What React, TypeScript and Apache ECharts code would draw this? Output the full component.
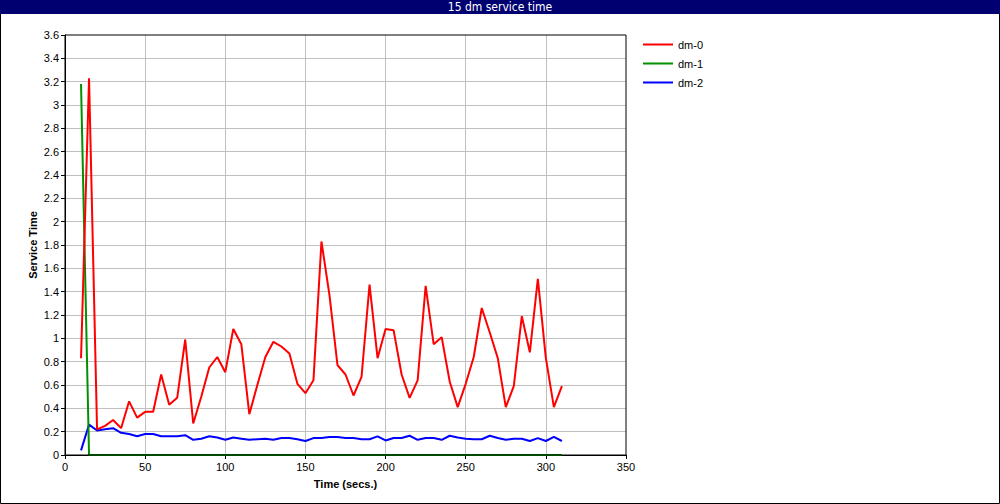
import React, { useEffect, useRef } from "react";
import * as echarts from "echarts";

const TITLE = "15 dm service time";
const SERIES_NAMES = ["dm-0", "dm-1", "dm-2"];
const TIMES = [
  10, 15, 20, 25, 30, 35, 40, 45, 50, 55, 60, 65, 70, 75, 80, 85, 90, 95, 100, 105,
  110, 115, 120, 125, 130, 135, 140, 145, 150, 155, 160, 165, 170, 175, 180, 185, 190, 195, 200, 205,
  210, 215, 220, 225, 230, 235, 240, 245, 250, 255, 260, 265, 270, 275, 280, 285, 290, 295, 300, 305, 310,
];
const DM0 = [
  0.83, 3.23, 0.22, 0.25, 0.3, 0.23, 0.46, 0.32, 0.37, 0.37, 0.69, 0.43, 0.49, 0.99, 0.27, 0.5, 0.75, 0.84, 0.71, 1.08,
  0.95, 0.35, 0.6, 0.84, 0.97, 0.93, 0.87, 0.61, 0.53, 0.64, 1.83, 1.37, 0.77, 0.69, 0.51, 0.67, 1.46, 0.83, 1.08, 1.07,
  0.69, 0.49, 0.64, 1.45, 0.95, 1.01, 0.63, 0.41, 0.61, 0.84, 1.26, 1.05, 0.83, 0.41, 0.59, 1.19, 0.88, 1.51, 0.83, 0.41, 0.59,
];
const DM1 = [
  3.18, 0, 0, 0, 0, 0, 0, 0, 0, 0, 0, 0, 0, 0, 0, 0, 0, 0, 0, 0,
  0, 0, 0, 0, 0, 0, 0, 0, 0, 0, 0, 0, 0, 0, 0, 0, 0, 0, 0, 0,
  0, 0, 0, 0, 0, 0, 0, 0, 0, 0, 0, 0, 0, 0, 0, 0, 0, 0, 0, 0, 0,
];
const DM2 = [
  0.04, 0.26, 0.21, 0.22, 0.23, 0.19, 0.18, 0.16, 0.18, 0.18, 0.16, 0.16, 0.16, 0.17, 0.13, 0.14, 0.16, 0.15, 0.13, 0.15,
  0.14, 0.13, 0.135, 0.14, 0.13, 0.145, 0.145, 0.135, 0.12, 0.145, 0.145, 0.155, 0.155, 0.145, 0.145, 0.135, 0.135, 0.16, 0.125, 0.145,
  0.145, 0.165, 0.13, 0.145, 0.145, 0.13, 0.165, 0.15, 0.14, 0.135, 0.135, 0.165, 0.145, 0.13, 0.14, 0.14, 0.12, 0.145, 0.12, 0.155, 0.12,
];
const COLORS = ["#ff0000", "#009000", "#0000ff"];

const FONT = "'Liberation Sans', Arial, sans-serif";

export default function App() {
  const ref = useRef<HTMLDivElement>(null);
  useEffect(() => {
    if (!ref.current) return;
    const chart = echarts.init(ref.current, undefined, { renderer: "svg" });
    const datasets = [DM0, DM1, DM2];
    chart.setOption({
      animation: false,
      backgroundColor: "#ffffff",
      textStyle: { fontFamily: FONT },
      graphic: [
        {
          type: "rect",
          shape: { x: 0.5, y: 0.5, width: 999, height: 503 },
          style: { fill: "none", stroke: "#000000", lineWidth: 1 },
          silent: true,
        },
        {
          type: "rect",
          shape: { x: 0, y: 0, width: 1000, height: 14 },
          style: { fill: "#000070" },
          silent: true,
        },
        {
          type: "text",
          x: 500,
          y: 7,
          style: {
            text: TITLE,
            fill: "#ffffff",
            font: "12px 'DejaVu Sans Condensed', 'Liberation Sans Narrow', sans-serif",
            align: "center",
            verticalAlign: "middle",
          },
          silent: true,
        },
      ],
      grid: {
        left: 65,
        top: 35,
        right: 374,
        bottom: 49,
        show: true,
        borderColor: "#000000",
        borderWidth: 1,
        containLabel: false,
        z: 5,
      },
      legend: {
        orient: "vertical",
        left: 638,
        top: 34,
        icon: "rect",
        itemWidth: 30,
        itemHeight: 2,
        itemGap: 8,
        textStyle: { fontSize: 11, color: "#000", fontFamily: FONT },
        data: SERIES_NAMES,
      },
      xAxis: {
        type: "value",
        min: 0,
        max: 350,
        interval: 50,
        name: "Time (secs.)",
        nameLocation: "middle",
        nameGap: 23,
        nameMoveOverlap: false,
        nameTextStyle: { fontWeight: "bold", fontSize: 11, color: "#000" },
        axisLine: { lineStyle: { color: "#000", width: 1 } },
        axisTick: { show: true, length: 4, lineStyle: { color: "#000" } },
        axisLabel: { fontSize: 11, color: "#000", margin: 6 },
        splitLine: { show: true, showMaxLine: false, lineStyle: { color: "#c0c0c0", width: 1 } },
      },
      yAxis: {
        type: "value",
        min: 0,
        max: 3.6,
        interval: 0.2,
        name: "Service Time",
        nameLocation: "middle",
        nameGap: 27,
        nameMoveOverlap: false,
        nameRotate: 90,
        nameTextStyle: { fontWeight: "bold", fontSize: 11, color: "#000" },
        axisLine: { show: true, lineStyle: { color: "#000", width: 1 } },
        axisTick: { show: true, length: 4, lineStyle: { color: "#000" } },
        axisLabel: { fontSize: 11, color: "#000", margin: 6 },
        splitLine: { show: true, showMaxLine: false, lineStyle: { color: "#c0c0c0", width: 1 } },
      },
      series: SERIES_NAMES.map((name, i) => ({
        name,
        type: "line",
        data: TIMES.map((t, j) => [t, datasets[i][j]]),
        showSymbol: false,
        symbol: "none",
        lineStyle: { color: COLORS[i], width: 2 },
        itemStyle: { color: COLORS[i] },
        z: 3 - i,
      })),
    });
    return () => chart.dispose();
  }, []);
  return (
    <div
      ref={ref}
      style={{ position: "fixed", left: 0, top: 0, width: 1000, height: 504 }}
    />
  );
}
